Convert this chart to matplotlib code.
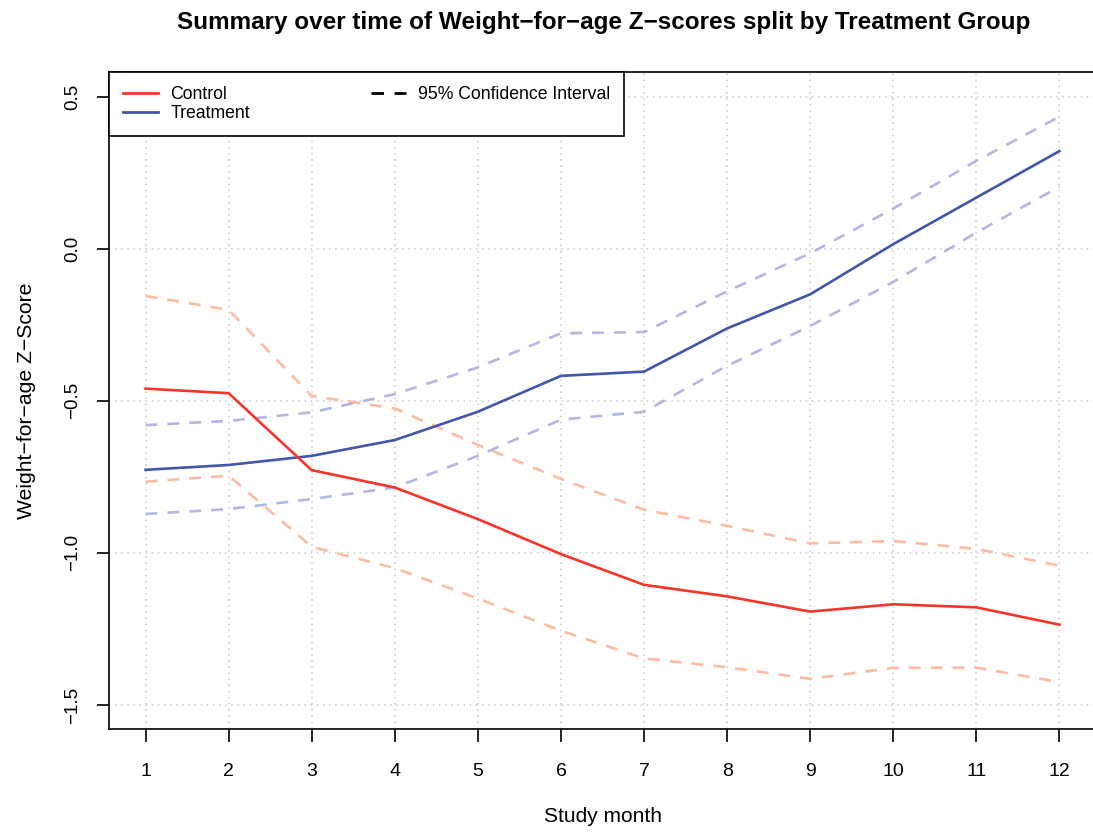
import matplotlib
matplotlib.use("Agg")
import matplotlib.pyplot as plt
from matplotlib.lines import Line2D

plt.rcParams['font.family'] = ['Liberation Sans', 'DejaVu Sans']

months = [1, 2, 3, 4, 5, 6, 7, 8, 9, 10, 11, 12]
control_mean = [-0.46, -0.475, -0.728, -0.785, -0.889, -1.004, -1.105, -1.143, -1.193, -1.169, -1.179, -1.236]
control_upper = [-0.155, -0.201, -0.484, -0.525, -0.645, -0.757, -0.858, -0.911, -0.969, -0.961, -0.987, -1.042]
control_lower = [-0.766, -0.746, -0.98, -1.05, -1.15, -1.256, -1.347, -1.376, -1.414, -1.378, -1.377, -1.425]
treat_mean = [-0.727, -0.711, -0.681, -0.629, -0.536, -0.418, -0.404, -0.262, -0.150, 0.015, 0.168, 0.321]
treat_upper = [-0.58, -0.566, -0.538, -0.478, -0.39, -0.278, -0.274, -0.14, -0.015, 0.132, 0.289, 0.434]
treat_lower = [-0.872, -0.856, -0.823, -0.785, -0.681, -0.562, -0.536, -0.385, -0.254, -0.109, 0.053, 0.204]
yticks = [-1.5, -1.0, -0.5, 0.0, 0.5]
ytick_labels = ["\u22121.5", "\u22121.0", "\u22120.5", "0.0", "0.5"]

W, H = 1093, 834
fig = plt.figure(figsize=(W / 100, H / 100), dpi=100)
ax_left, ax_right = 109, 1096
ax_top, ax_bottom = 72.3, 729.3
ax = fig.add_axes([ax_left / W, (H - ax_bottom) / H, (ax_right - ax_left) / W, (ax_bottom - ax_top) / H])

red = '#F7342A'
blue = '#4257AC'
red_ci = '#FDBCA1'
blue_ci = '#B4B6E4'
dash = (4.5, 3.8)

for x in months:
    ax.axvline(x, color='#C8C8C8', lw=1.1, ls=(0, (1, 3)), zorder=0)
for y in yticks:
    ax.axhline(y, color='#C8C8C8', lw=1.1, ls=(0, (1, 3)), zorder=0)

ax.plot(months, control_upper, color=red_ci, lw=1.9, dashes=dash, zorder=2)
ax.plot(months, control_lower, color=red_ci, lw=1.9, dashes=dash, zorder=2)
ax.plot(months, treat_upper, color=blue_ci, lw=1.9, dashes=dash, zorder=2)
ax.plot(months, treat_lower, color=blue_ci, lw=1.9, dashes=dash, zorder=2)
ax.plot(months, treat_mean, color=blue, lw=1.9, zorder=3)
ax.plot(months, control_mean, color=red, lw=1.9, zorder=3)

ax.set_xlim(0.56, 12.44)
ax.set_ylim(-1.58, 0.58)
ax.set_xticks(months)
ax.set_xticklabels([str(m) for m in months], fontsize=14)
ax.set_yticks(yticks)
ax.set_yticklabels(ytick_labels, fontsize=13.5, rotation=90, va='center')
ax.tick_params(axis='both', direction='out', length=9, width=1.2, color='black')
ax.tick_params(axis='x', pad=15)
ax.tick_params(axis='y', pad=11)
for s in ax.spines.values():
    s.set_linewidth(1.2)
    s.set_color('black')

ax.set_xlabel('Study month', fontsize=15, labelpad=20)
ax.set_ylabel('Weight\u2212for\u2212age Z\u2212Score', fontsize=15.2, labelpad=20)
fig.text((172 + 1035) / 2 / W, 1 - 22 / H, 'Summary over time of Weight\u2212for\u2212age Z\u2212scores split by Treatment Group',
         ha='center', va='center', fontsize=17.5, fontweight='bold')

handles = [
    Line2D([], [], color=red, lw=2.0),
    Line2D([], [], color=blue, lw=2.0),
    Line2D([], [], color='black', lw=2.0, dashes=(4.5, 3.8)),
    Line2D([], [], color='none'),
]
labels = ['Control', 'Treatment', '95% Confidence Interval', '']
leg = ax.legend(handles, labels, loc='upper left', ncol=2, bbox_to_anchor=(0, 1), borderaxespad=0,
                fontsize=12.7, frameon=True, fancybox=False, edgecolor='black', framealpha=1,
                handlelength=2.0, handletextpad=0.68, columnspacing=6.85, labelspacing=0.1,
                borderpad=0.8)
leg.get_frame().set_linewidth(1.2)
leg.set_zorder(5)

fig.savefig('out.png', dpi=100)
